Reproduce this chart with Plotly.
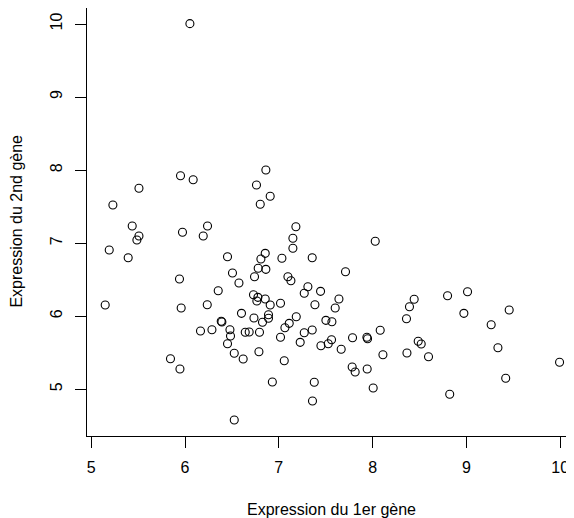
import plotly.graph_objects as go

gene1 = [6.052, 5.952, 6.087, 5.509, 5.231, 6.862, 6.762, 6.908, 6.802, 5.437,
         6.240, 7.182, 5.509, 5.487, 5.973, 6.194, 7.150, 7.150, 5.192, 5.394,
         6.453, 6.855, 6.809, 7.033, 7.356, 6.780, 6.862, 6.506, 6.741, 5.941,
         7.097, 7.129, 6.575, 7.310, 6.354, 7.271, 7.445, 6.730, 6.777, 6.855,
         6.766, 6.908, 7.018, 7.385, 5.149, 5.959, 6.237, 6.602, 6.735, 6.890,
         6.890, 6.826, 7.186, 7.111, 7.065, 7.502, 7.566, 6.386, 6.393, 6.165,
         6.287, 6.479, 6.485, 6.642, 6.684, 6.794, 7.271, 7.356, 7.018, 7.228,
         6.453, 7.449, 7.527, 7.562, 6.525, 6.788, 6.620, 7.058, 5.845, 5.946,
         6.931, 7.378, 7.359, 6.525, 8.028, 7.711, 7.641, 7.601, 8.799, 9.012,
         8.443, 8.393, 8.361, 9.456, 8.973, 9.264, 8.081, 7.786, 7.939, 7.946,
         7.665, 8.110, 8.366, 8.486, 8.518, 8.596, 9.336, 9.993, 7.782, 7.814,
         7.942, 8.006, 8.822, 9.419]

gene2 = [10.005, 7.924, 7.869, 7.751, 7.523, 8.002, 7.796, 7.642, 7.532, 7.235,
         7.235, 7.226, 7.098, 7.044, 7.149, 7.098, 7.067, 6.930, 6.907, 6.801,
         6.815, 6.861, 6.783, 6.793, 6.801, 6.656, 6.642, 6.592, 6.541, 6.510,
         6.541, 6.486, 6.455, 6.404, 6.350, 6.314, 6.341, 6.295, 6.259, 6.236,
         6.209, 6.154, 6.177, 6.158, 6.154, 6.113, 6.158, 6.040, 5.976, 6.021,
         5.972, 5.917, 5.994, 5.903, 5.843, 5.944, 5.925, 5.931, 5.922, 5.798,
         5.816, 5.816, 5.730, 5.780, 5.784, 5.780, 5.775, 5.812, 5.712, 5.643,
         5.624, 5.597, 5.624, 5.679, 5.493, 5.515, 5.415, 5.391, 5.419, 5.278,
         5.100, 5.096, 4.840, 4.580, 7.026, 6.610, 6.236, 6.113, 6.281, 6.336,
         6.232, 6.131, 5.966, 6.085, 6.040, 5.884, 5.808, 5.706, 5.712, 5.693,
         5.548, 5.474, 5.497, 5.657, 5.620, 5.446, 5.569, 5.370, 5.305, 5.237,
         5.278, 5.018, 4.932, 5.151]

x_ticks = [5, 6, 7, 8, 9, 10]
y_ticks = [5, 6, 7, 8, 9, 10]
x_title = "Expression du 1er gène"
y_title = "Expression du 2nd gène"

FONT = "Liberation Sans, Arial, sans-serif"

fig = go.Figure(go.Scatter(
    x=gene1, y=gene2, mode="markers",
    marker=dict(symbol="circle-open", size=8, color="black",
                line=dict(color="black", width=1.1)),
    hoverinfo="x+y",
))

# The page body keeps its default 8px margin, so the figure is sized 8px smaller
fig.update_layout(
    width=566, height=510,
    margin=dict(l=79, r=0, t=0, b=82, autoexpand=False),
    paper_bgcolor="white", plot_bgcolor="white",
    showlegend=False,
    font=dict(family=FONT, size=16, color="black"),
    xaxis=dict(range=[4.955, 10.147], tickvals=x_ticks, ticktext=[str(v) for v in x_ticks],
               showgrid=False, zeroline=False, showline=True, linecolor="black",
               linewidth=1, mirror=True, ticks="outside", ticklen=11, tickwidth=1,
               tickcolor="black", ticklabelstandoff=6, automargin=False,
               tickfont=dict(family=FONT, size=16, color="black")),
    yaxis=dict(range=[4.361, 10.219], tickvals=y_ticks, ticktext=[str(v) for v in y_ticks],
               showgrid=False, zeroline=False, showline=True, linecolor="black",
               linewidth=1, ticks="outside", ticklen=11, tickwidth=1,
               tickcolor="black", tickangle=-90, ticklabelstandoff=7, automargin=False,
               tickfont=dict(family=FONT, size=16, color="black")),
    annotations=[
        dict(text=x_title, xref="paper", yref="paper", x=0.503, y=-0.1706,
             xanchor="center", yanchor="middle", showarrow=False,
             font=dict(family=FONT, size=16, color="black")),
        dict(text=y_title, xref="paper", yref="paper", x=-0.1437, y=0.501,
             xanchor="center", yanchor="middle", showarrow=False, textangle=-90,
             font=dict(family=FONT, size=16, color="black")),
    ],
)

fig.write_html("out.html")
